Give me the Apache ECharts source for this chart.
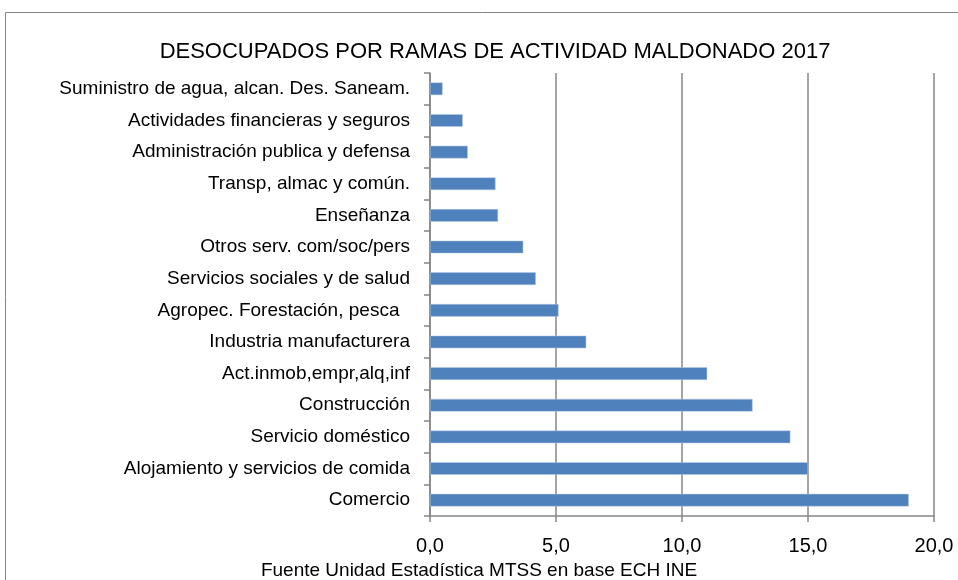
<!DOCTYPE html>
<html>
<head>
<meta charset="utf-8">
<script src="https://cdn.jsdelivr.net/npm/echarts@6/dist/echarts.min.js"></script>
<style>
  html, body { margin: 0; padding: 0; background: #fff; }
  #main { width: 958px; height: 580px; }
</style>
</head>
<body>
<div id="main"></div>
<script>
// ramas de actividad, de arriba hacia abajo
var ramas = [
  'Suministro de agua, alcan. Des. Saneam.',
  'Actividades financieras y seguros',
  'Administración publica y defensa',
  'Transp, almac y común.',
  'Enseñanza',
  'Otros serv. com/soc/pers',
  'Servicios sociales y de salud',
  'Agropec. Forestación, pesca  ',
  'Industria manufacturera',
  'Act.inmob,empr,alq,inf',
  'Construcción',
  'Servicio doméstico',
  'Alojamiento y servicios de comida',
  'Comercio'
]
var desocupados = [0.5, 1.3, 1.5, 2.6, 2.7, 3.7, 4.2, 5.1, 6.2, 11.0, 12.8, 14.3, 15.0, 19.0]
var ejeMin = 0
var ejeMax = 20
var ejePaso = 5

var fuente = 'Liberation Sans'
var gris = '#868686'
var chart = echarts.init(document.getElementById('main'))

var option = {
  animation: false,
  backgroundColor: '#fff',
  textStyle: { fontFamily: fuente },
  title: {
    text: 'DESOCUPADOS POR RAMAS DE ACTIVIDAD MALDONADO 2017',
    left: 490,
    top: 36,
    textAlign: 'center',
    textStyle: { fontFamily: fuente, fontSize: 22, fontWeight: 'normal', color: '#000' }
  },
  graphic: [
    {
      type: 'rect',
      shape: { x: 5.5, y: 12.5, width: 1000, height: 700 },
      style: { fill: 'none', stroke: gris, lineWidth: 1 },
      z: -1
    },
    {
      type: 'text',
      left: 'center',
      top: 561,
      style: {
        text: 'Fuente Unidad Estadística MTSS en base ECH INE',
        fontFamily: fuente,
        fontSize: 19,
        fill: '#000'
      }
    }
  ],
  grid: { left: 430, right: 24, top: 73, bottom: 64 },
  xAxis: {
    type: 'value',
    min: ejeMin,
    max: ejeMax,
    interval: ejePaso,
    axisLine: { show: true, lineStyle: { color: gris, width: 1.5 } },
    axisTick: { show: true, length: 6, lineStyle: { color: gris, width: 1.5 } },
    splitLine: { show: true, lineStyle: { color: gris, width: 1.5 } },
    axisLabel: {
      margin: 20,
      fontSize: 20,
      color: '#000',
      fontFamily: fuente,
      formatter: function (v) { return v.toFixed(1).replace('.', ',') }
    }
  },
  yAxis: {
    type: 'category',
    data: ramas,
    inverse: true,
    axisLine: { show: true, lineStyle: { color: gris, width: 1.5 } },
    axisTick: { show: true, length: 6, lineStyle: { color: gris, width: 1.5 } },
    axisLabel: { margin: 20, fontSize: 19, color: '#000', fontFamily: fuente }
  },
  series: [{
    type: 'bar',
    data: desocupados,
    barCategoryGap: '60%',
    itemStyle: { color: '#4F81BD', borderColor: '#B9CDE5', borderWidth: 0.5 }
  }]
}
chart.setOption(option)
</script>
</body>
</html>
